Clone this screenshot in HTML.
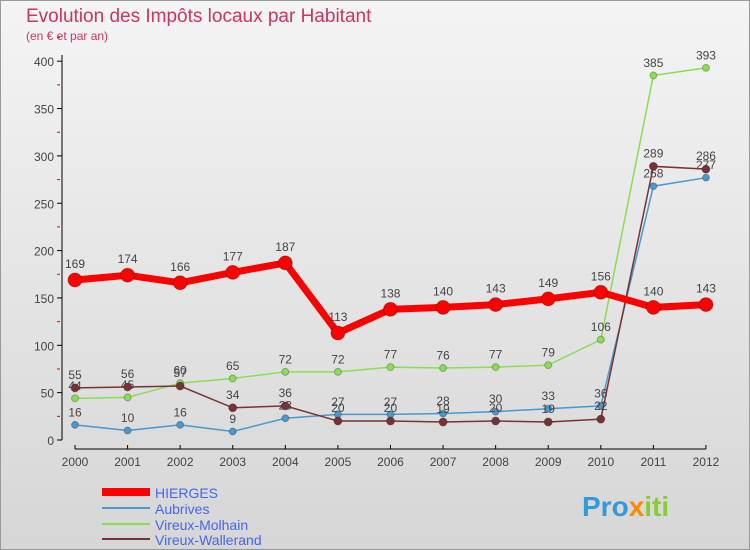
<!DOCTYPE html>
<html><head><meta charset="utf-8"><style>
body{margin:0;width:750px;height:550px;overflow:hidden;font-family:"Liberation Sans",sans-serif}
#c{position:absolute;left:0;top:0;width:748px;height:548px;border:1px solid #999;background:linear-gradient(#f4f4f4,#d6d6d6)}
</style></head><body>
<div id="c">
<svg id="s" width="750" height="550" style="position:absolute;left:-1px;top:-1px">
<text x="26" y="22" font-size="19" fill="#cc3366">Evolution des Impôts locaux par Habitant</text>
<text x="26" y="40" font-size="12" fill="#cc3366">(en € et par an)</text>
<g id="ax"></g><g id="series"></g>
<g>
<line x1="102" y1="492" x2="150" y2="492" stroke="#ff0000" stroke-width="8"/>
<text x="155" y="498" font-size="14" fill="#4466ee">HIERGES</text>
<line x1="102" y1="508" x2="150" y2="508" stroke="#4a98d0" stroke-width="2"/>
<text x="155" y="514" font-size="14" fill="#4466ee">Aubrives</text>
<line x1="102" y1="524" x2="150" y2="524" stroke="#88dd55" stroke-width="2"/>
<text x="155" y="530" font-size="14" fill="#4466ee">Vireux-Molhain</text>
<line x1="102" y1="539" x2="150" y2="539" stroke="#773333" stroke-width="2"/>
<text x="155" y="545" font-size="14" fill="#4466ee">Vireux-Wallerand</text>
</g>
<text x="582" y="516" font-size="28" font-weight="bold" fill="#3399dd">Pro<tspan fill="#ff8800">x</tspan><tspan fill="#88cc33">iti</tspan></text>
</svg></div>
<script>
const years=[2000,2001,2002,2003,2004,2005,2006,2007,2008,2009,2010,2011,2012];
const yTicks=[0,50,100,150,200,250,300,350,400];
const hierges=[169,174,166,177,187,113,138,140,143,149,156,140,143];
const aubrives=[16,10,16,9,23,27,27,28,30,33,36,268,277];
const molhain=[44,45,60,65,72,72,77,76,77,79,106,385,393];
const wallerand=[55,56,57,34,36,20,20,19,20,19,22,289,286];
const NS="http://www.w3.org/2000/svg";
const X=i=>75+i*52.58, Y=v=>440-v*0.947;
function mk(t,a,p){const e=document.createElementNS(NS,t);for(const k in a)e.setAttribute(k,a[k]);p.appendChild(e);return e;}
const ax=document.getElementById('ax');
let l=mk('line',{x1:62,y1:55,x2:62,y2:440,stroke:'#000'},ax);


l=mk('line',{x1:75,y1:449,x2:X(12),y2:449,stroke:'#000'},ax);


yTicks.forEach(v=>{
 mk('line',{x1:57,y1:Y(v),x2:62,y2:Y(v),stroke:'#000'},ax);
 mk('line',{x1:57,y1:Y(v+25),x2:60,y2:Y(v+25),stroke:'#e00'},ax);
 const t=mk('text',{x:54,y:Y(v)+5,'font-size':12,fill:'#444','text-anchor':'end'},ax);
 t.textContent=v;
 
 
});
years.forEach((y,i)=>{
 mk('line',{x1:X(i),y1:445,x2:X(i),y2:449,stroke:'#000'},ax);
 const t=mk('text',{x:X(i),y:466,'font-size':12,fill:'#444','text-anchor':'middle'},ax);
 t.textContent=y;
 
 
});
const sg=document.getElementById('series');
function draw(vals,col,w,r,name){
 const g=mk('g',{},sg);
 
 
 mk('polyline',{points:vals.map((v,i)=>X(i)+','+Y(v)).join(' '),fill:'none',stroke:col,'stroke-width':w},g);
 vals.forEach((v,i)=>{
  const c=mk('circle',{cx:X(i),cy:Y(v),r:r,fill:col,stroke:'rgba(0,0,0,0.25)'},g);
  
  
  const t=mk('text',{x:X(i),y:Y(v)-r-5,'font-size':12,fill:'#444','text-anchor':'middle'},g);
  t.textContent=v;
 });
}
draw(aubrives,'#4a98d0',1.5,3.5,'series-aubrives');
draw(molhain,'#88dd55',1.5,3.5,'series-vireux-molhain');
draw(wallerand,'#773333',1.5,4,'series-vireux-wallerand');
draw(hierges,'#ff0000',7,7,'series-hierges');
</script>
</body></html>
